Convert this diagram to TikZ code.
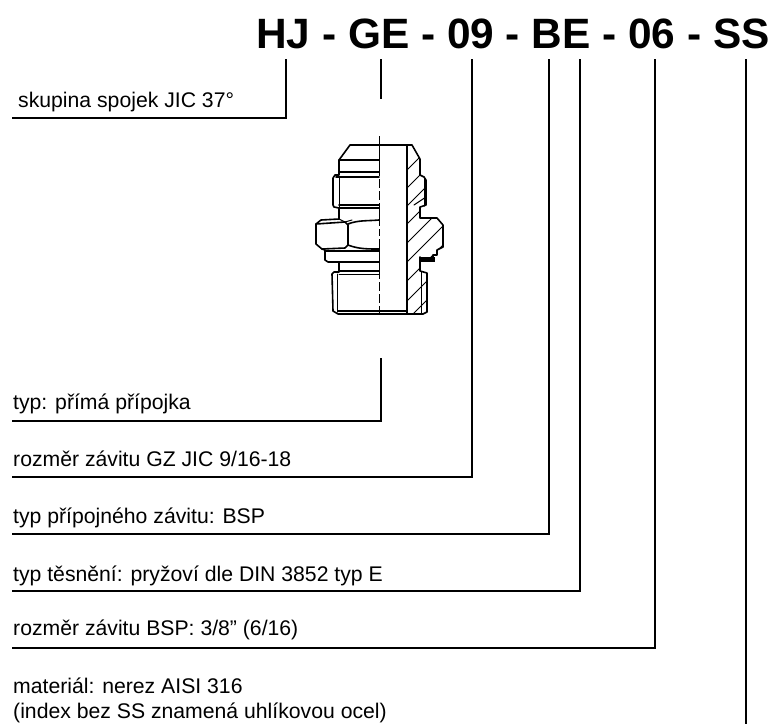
\documentclass[tikz,border=0pt]{standalone}
\usepackage{fontspec}
\setmainfont{Liberation Sans}
\tikzset{
  lbl/.style={anchor=base west,inner sep=0pt,font=\fontsize{21.2}{24}\selectfont},
  ttl/.style={anchor=base west,inner sep=0pt,font=\fontsize{42.4}{46}\bfseries\selectfont},
  lead/.style={line width=1.7pt,line join=miter},
  part/.style={line width=1.6pt,line join=round,line cap=round},
  thin part/.style={line width=1pt,line cap=round},
  hatch/.style={line width=1pt}
}
\begin{document}
\begin{tikzpicture}[x=1pt,y=-1pt]
\useasboundingbox (0,0) rectangle (775,724);
\fill[white] (0,0) rectangle (775,724);
\node[ttl] (title) at (256,48) {HJ - GE - 09 - BE - 06 - SS};
% labels
\node[lbl] (l1) at (18,107) {skupina spojek JIC 37°};
\node[lbl] (l2) at (13,409) {typ: přímá přípojka};
\node[lbl] (l3) at (13,466) {rozměr závitu GZ JIC 9/16-18};
\node[lbl] (l4) at (13,523) {typ přípojného závitu: BSP};
\node[lbl] (l5) at (13,581) {typ těsnění: pryžoví dle DIN 3852 typ E};
\node[lbl] (l6) at (13,635) {rozměr závitu BSP: 3/8” (6/16)};
\node[lbl] (l7) at (13,693) {materiál: nerez AISI 316};
\node[lbl] (l8) at (13,718) {(index bez SS znamená uhlíkovou ocel)};
% leaders
\draw[lead] (286,59) -- (286,118) -- (12,118);
\draw[lead,line width=1.2pt] (381,59) -- (381,99);
\draw[lead] (381,358) -- (381,421) -- (12,421);
\draw[lead] (472,59) -- (472,477) -- (12,477);
\draw[lead] (549,59) -- (549,534) -- (12,534);
\draw[lead] (580,59) -- (580,591) -- (12,591);
\draw[lead] (655,59) -- (655,648) -- (12,648);
\draw[lead] (746,59) -- (746,724);
% hatching of the section
\begin{scope}
\clip (407,145) -- (410,145) -- (420,159) -- (420,175) -- (424,177) -- (426,180) -- (426,205) -- (420,207) -- (420,218) -- (437,218) -- (443,225) -- (443,247) -- (437,250) -- (433,250) -- (433,257) -- (420,257) -- (420,271) -- (427,273) -- (427,312) -- (423,314) -- (407,314) -- cycle;
\foreach \s in {577,595,613,631,650,669,688,708,727}
  \draw[hatch] (400,\s-400) -- (460,\s-460);
\end{scope}
% section outline
\draw[part] (407,145) -- (407,314);
\draw[part] (379,145) -- (412,145) -- (420,159) -- (420,175) -- (424,177) -- (426,180) -- (426,205) -- (420,207) -- (420,218) -- (437,218) -- (443,225) -- (443,247) -- (437,250) -- (437,255) -- (433,255) -- (433,261);
\fill (420,257) rectangle (435,262);
\draw[part] (420,257) -- (420,271) -- (427,273) -- (427,312) -- (423,314) -- (338,314) -- (333,311) -- (332,274) -- (334,272) -- (339,272) -- (339,262) -- (328,262) -- (325,260) -- (325,250) -- (322,249) -- (316,244) -- (316,224) -- (321,220) -- (339,219) -- (339,208) -- (334,207) -- (333,205) -- (333,178) -- (335,175) -- (339,175) -- (339,160) -- (350,145) -- (379,145);
% outer view details
\draw[part] (339,160) -- (379,160);
\draw[part] (339,172) -- (379,172);
\draw[part] (336,177) -- (379,177);
\draw[part] (339,205) -- (379,205);
\draw[part] (339,208) -- (379,208);
\draw[part] (325,251) -- (379,251);
\draw[part] (339,262) -- (379,262);
\draw[part] (339,271) -- (379,271);
\draw[thin part] (339,274) -- (379,274);
\draw[part] (338,311) -- (407,311);
\draw[thin part] (339,177) -- (339,208);
\draw[thin part] (337,274) -- (337,312);
\draw[thin part] (424,177) -- (424,206);
\draw[thin part] (421,272) -- (421,313);
\draw[thin part] (414,205) -- (426,197);
% hexagon
\draw[part] (316,224) -- (345,222) -- (348,225) -- (348,245) -- (345,248) -- (322,249);
\draw[thin part] (339,219) -- (345,222) -- (352,220);
\draw[part] (348,224) .. controls (358,220) and (368,221) .. (379,220);
\draw[part] (348,245) .. controls (358,249) and (368,249) .. (379,249);
% centre line
\draw[line width=0.9pt,dash pattern=on 40pt off 3pt on 9pt off 3pt on 9pt off 3pt on 23pt off 3pt on 7pt off 3pt] (379.5,136) -- (379.5,313);
\end{tikzpicture}
\end{document}
